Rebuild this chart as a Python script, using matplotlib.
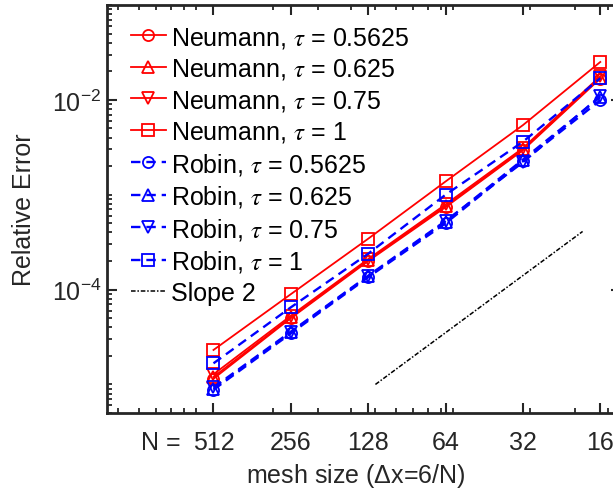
import matplotlib
matplotlib.use("Agg")
import matplotlib.pyplot as plt
from matplotlib.ticker import LogLocator, FixedLocator, FixedFormatter, NullFormatter
import numpy as np

# grid sizes (dx = 6/N)
N = [512, 256, 128, 64, 32, 16]
n_labels = ["512", "256", "128", "64", "32", "16"]

# relative errors
neu_05625 = [1.15e-5, 5.0e-5, 2.0e-4, 7.4e-4, 2.95e-3, 1.68e-2]
neu_0625 = [1.2e-5, 5.1e-5, 2.05e-4, 7.6e-4, 3.0e-3, 1.72e-2]
neu_075 = [1.28e-5, 5.3e-5, 2.1e-4, 7.9e-4, 3.1e-3, 1.78e-2]
neu_1 = [2.31e-5, 8.95e-5, 3.44e-4, 1.38e-3, 5.42e-3, 2.51e-2]
rob_05625 = [8.8e-6, 3.45e-5, 1.35e-4, 5.0e-4, 2.25e-3, 9.9e-3]
rob_0625 = [9.0e-6, 3.55e-5, 1.38e-4, 5.2e-4, 2.35e-3, 1.07e-2]
rob_075 = [9.3e-6, 3.6e-5, 1.4e-4, 5.3e-4, 2.2e-3, 1.1e-2]
rob_1 = [1.67e-5, 6.5e-5, 2.39e-4, 1.0e-3, 3.62e-3, 1.69e-2]

# reference slope-2 line end points
slope_x = [0.05, 0.32]
slope_y = [1.0e-5, 4.1e-4]

plt.rcParams['font.family'] = ['Liberation Sans', 'DejaVu Sans']
plt.rcParams['mathtext.fontset'] = 'stix'
plt.rcParams['font.size'] = 18

dx = [6.0 / n for n in N]

fig = plt.figure(figsize=(6.13, 5.02), dpi=100)
ax = fig.add_axes([0.174, 0.1753, 0.8385, 0.8127])

red = (1, 0, 0)
blue = (0, 0, 1)
kw = dict(markersize=8, markerfacecolor='none', markeredgewidth=1.3)
dash = (0, (4, 2.5))

ax.loglog(dx, neu_05625, '-o', color=red, lw=1.3, label=r'Neumann, $\tau$ = 0.5625', **kw)
ax.loglog(dx, neu_0625, '-^', color=red, lw=1.3, label=r'Neumann, $\tau$ = 0.625', **kw)
ax.loglog(dx, neu_075, '-v', color=red, lw=1.3, label=r'Neumann, $\tau$ = 0.75', **kw)
ax.loglog(dx, neu_1, '-s', color=red, lw=1.3, label=r'Neumann, $\tau$ = 1', **kw)
ax.loglog(dx, rob_05625, marker='o', ls=dash, color=blue, lw=1.7, label=r'Robin, $\tau$ = 0.5625', **kw)
ax.loglog(dx, rob_0625, marker='^', ls=dash, color=blue, lw=1.7, label=r'Robin, $\tau$ = 0.625', **kw)
ax.loglog(dx, rob_075, marker='v', ls=dash, color=blue, lw=1.7, label=r'Robin, $\tau$ = 0.75', **kw)
ax.loglog(dx, rob_1, marker='s', ls=dash, color=blue, lw=1.7, label=r'Robin, $\tau$ = 1', **kw)
ax.loglog(slope_x, slope_y, color='k', lw=1.1, ls=(0, (3, 1.2, 1, 1.2)), label='Slope 2')

ax.set_xlim(0.0045, 0.45)
ax.set_ylim(5e-6, 1e-1)

# ticks, MATLAB style
ax.xaxis.set_major_locator(FixedLocator(dx))
ax.xaxis.set_major_formatter(FixedFormatter(n_labels))
ax.xaxis.set_minor_locator(LogLocator(base=10, subs=np.arange(1, 10), numticks=100))
ax.xaxis.set_minor_formatter(NullFormatter())
ax.yaxis.set_major_locator(FixedLocator([1e-4, 1e-2]))
ax.yaxis.set_major_formatter(FixedFormatter([r'$\mathregular{10^{-4}}$', r'$\mathregular{10^{-2}}$']))
ax.yaxis.set_minor_locator(LogLocator(base=10, subs=np.arange(1, 10), numticks=100))
ax.yaxis.set_minor_formatter(NullFormatter())

frame = '#262626'
ax.tick_params(which='both', direction='in', top=True, right=True, color=frame, labelcolor=frame)
ax.tick_params(which='major', length=7, width=1.5)
ax.tick_params(which='minor', length=3.8, width=1.3)
ax.tick_params(axis='x', which='major', pad=12)
ax.tick_params(axis='y', which='major', pad=4)
for s in ax.spines.values():
    s.set_linewidth(2)
    s.set_color(frame)

ax.text(0.1446, -0.072, 'N =', transform=ax.transAxes, ha='right', va='center', color=frame)

ax.set_xlabel(r'mesh size ($\mathregular{\Delta}$x=6/N)', color=frame, va='center')
ax.xaxis.set_label_coords(0.485, -0.151)
ax.set_ylabel('Relative Error', color=frame, va='center')
ax.yaxis.set_label_coords(-0.161, 0.5)

ax.legend(loc='upper left', bbox_to_anchor=(0.047, 0.952), frameon=False, fontsize=18,
          handlelength=1.4, handletextpad=0.2, labelspacing=0.26, borderpad=0, borderaxespad=0)

fig.savefig('out.png', dpi=100)
